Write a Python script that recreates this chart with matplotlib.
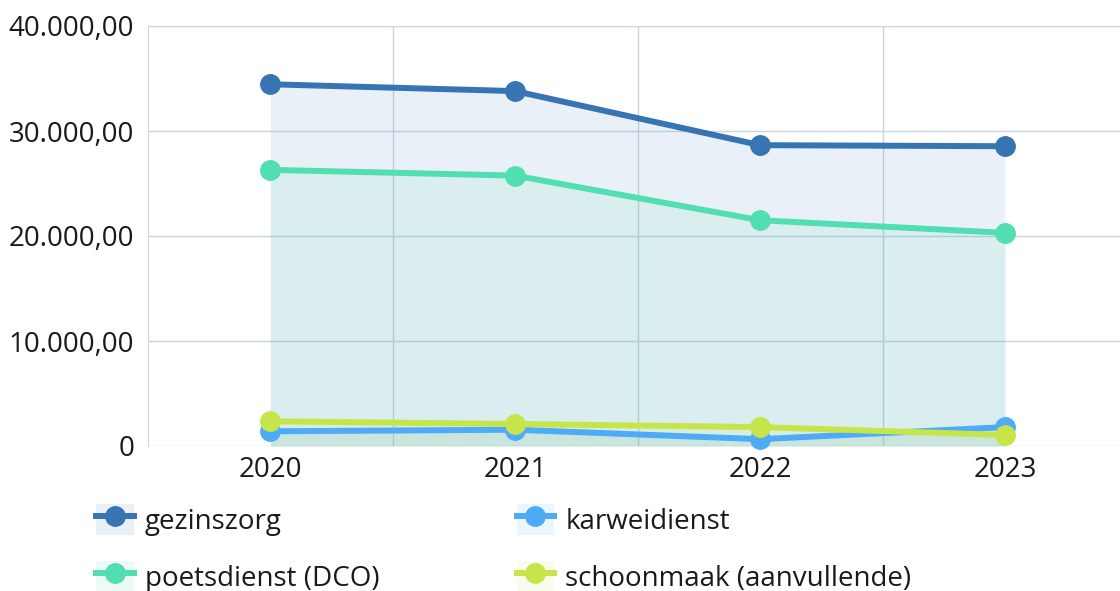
import matplotlib
matplotlib.use("Agg")
import matplotlib.pyplot as plt
from matplotlib.lines import Line2D
from matplotlib.patches import Patch
from matplotlib.ticker import FuncFormatter, FixedLocator

plt.rcParams['font.family'] = ['Open Sans', 'DejaVu Sans']

# Data
years = ['2020', '2021', '2022', '2023']
gezinszorg = [34450, 33800, 28650, 28550]
karweidienst = [1400, 1550, 650, 1800]
poetsdienst = [26300, 25750, 21500, 20300]
schoonmaak = [2350, 2100, 1800, 1050]

series = [
    ('gezinszorg', gezinszorg, '#3674b4'),
    ('karweidienst', karweidienst, '#4dabf7'),
    ('poetsdienst (DCO)', poetsdienst, '#51deb0'),
    ('schoonmaak (aanvullende)', schoonmaak, '#c5e54b'),
]

grid_c = '#c9d4df'
fs = 20

fig = plt.figure(figsize=(11.2, 5.91), dpi=100)
ax = fig.add_axes([148/1120, 1 - 446/591, 1 - 148/1120, 420/591])

x = list(range(len(years)))

# Area fills first, then lines on top
for name, vals, col in series:
    ax.fill_between(x, 0, vals, color=col, alpha=0.1, lw=0, zorder=1)
for i, (name, vals, col) in enumerate(series):
    ax.plot(x, vals, color=col, lw=4.3, marker='o', ms=14,
            solid_capstyle='round', zorder=3 + i, clip_on=False)

ax.set_xlim(-0.5, 3.47)
ax.set_ylim(0, 40000)
ax.set_xticks(x)
ax.set_xticklabels(years)
ax.xaxis.set_minor_locator(FixedLocator([0.5, 1.5, 2.5]))
ax.set_yticks([0, 10000, 20000, 30000, 40000])


def nl_fmt(v, pos):
    if v == 0:
        return '0'
    return f"{v:,.2f}".replace(',', 'X').replace('.', ',').replace('X', '.')


ax.yaxis.set_major_formatter(FuncFormatter(nl_fmt))
ax.grid(axis='y', which='major', color=grid_c, lw=1, zorder=0)
ax.grid(axis='x', which='minor', color=grid_c, lw=1, zorder=0)
ax.tick_params(axis='both', which='both', length=0, labelsize=fs, colors='#1a1a1a')
ax.tick_params(axis='y', pad=10)
ax.tick_params(axis='x', pad=7)
for s in ['top', 'right', 'bottom']:
    ax.spines[s].set_visible(False)
ax.spines['left'].set_color(grid_c)
ax.set_axisbelow(True)

# Legend (row-wise: gezinszorg, karweidienst / poetsdienst, schoonmaak)
handles = []
for name, vals, col in series:
    handles.append((Patch(facecolor=col, alpha=0.1, lw=0),
                    Line2D([], [], color=col, lw=4.3, marker='o', ms=14)))
order = [0, 2, 1, 3]
leg = fig.legend([handles[i] for i in order], [series[i][0] for i in order],
                 loc='upper left', bbox_to_anchor=(96/1120, 1 - 504/591),
                 ncol=2, frameon=False, fontsize=fs, handlelength=1.35,
                 handleheight=1.35, handletextpad=0.4, columnspacing=4.95,
                 labelspacing=0.9, borderpad=0, borderaxespad=0)
for t in leg.get_texts():
    t.set_color('#1a1a1a')

fig.savefig('out.png', dpi=100)
